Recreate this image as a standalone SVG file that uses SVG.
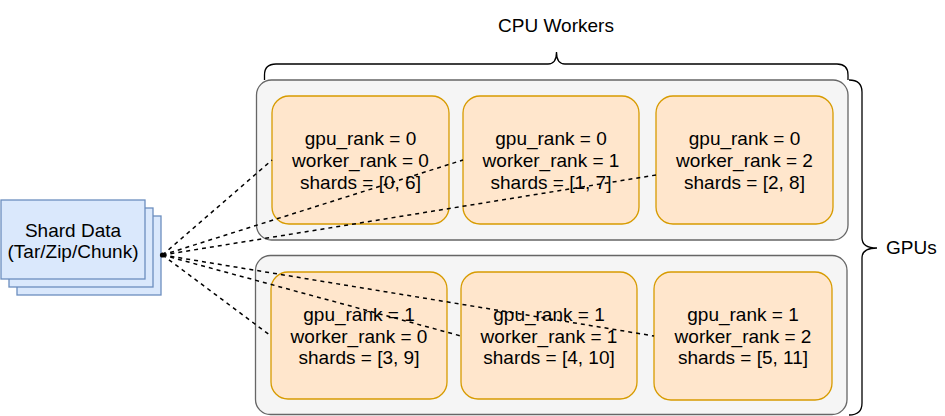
<svg xmlns="http://www.w3.org/2000/svg" width="945" height="416" viewBox="0 0 945 416">
<style>
  text { font-family: "Liberation Sans", Arial, Helvetica, sans-serif; font-size: 19px; fill: #000; text-anchor: middle; }
  .shard { fill: #dae8fc; stroke: #6c8ebf; stroke-width: 1.3; }
  .gpu { fill: #f5f5f5; stroke: #666666; stroke-width: 1.3; }
  .worker { fill: #ffe6cc; stroke: #d79b00; stroke-width: 1.3; }
  .brace { fill: none; stroke: #000; stroke-width: 1.3; }
  .link { fill: none; stroke: #000; stroke-width: 1.5; stroke-dasharray: 4 4; }
</style>
<rect width="945" height="416" fill="#ffffff"/>

<g id="cpu-workers-label">
  <path class="brace" d="M264.5,80 L264.5,75 Q264.5,64 276,64 L548,64 Q556.5,64 556.5,52 Q556.5,64 565,64 L837,64 Q848,64 848,75 L848,80"/>
  <text x="556" y="32">CPU Workers</text>
</g>

<g id="gpus-label">
  <path class="brace" d="M849,80 Q862,80 862,92 L862,238 Q862,248 877,248 Q862,248 862,258 L862,403 Q862,415 849,415"/>
  <text x="886" y="254" style="text-anchor:start">GPUs</text>
</g>

<g id="shard-data">
  <rect class="shard" x="17" y="216" width="144" height="79"/>
  <rect class="shard" x="9" y="208" width="144" height="79"/>
  <rect class="shard" x="1" y="200" width="144" height="79"/>
  <text x="73" y="236.5">Shard Data</text>
  <text x="73" y="257.5">(Tar/Zip/Chunk)</text>
</g>

<g id="gpu0">
  <rect class="gpu" x="256.5" y="80" width="591.5" height="160" rx="15" ry="15"/>
</g>
<g id="gpu1">
  <rect class="gpu" x="255.5" y="255.5" width="591.5" height="159" rx="15" ry="15"/>
</g>

<g id="w00">
  <rect class="worker" x="272" y="96" width="177" height="128" rx="17" ry="17"/>
  <text x="360.5" y="145">gpu_rank = 0</text>
  <text x="360.5" y="167">worker_rank = 0</text>
  <text x="360.5" y="188.5">shards = [0, 6]</text>
</g>
<g id="w01">
  <rect class="worker" x="463" y="96" width="176" height="128" rx="17" ry="17"/>
  <text x="551" y="145">gpu_rank = 0</text>
  <text x="551" y="167">worker_rank = 1</text>
  <text x="551" y="188.5">shards = [1, 7]</text>
</g>
<g id="w02">
  <rect class="worker" x="656" y="96" width="177" height="128" rx="17" ry="17"/>
  <text x="744.5" y="145">gpu_rank = 0</text>
  <text x="744.5" y="167">worker_rank = 2</text>
  <text x="744.5" y="188.5">shards = [2, 8]</text>
</g>
<g id="w10">
  <rect class="worker" x="271" y="272" width="176" height="127" rx="17" ry="17"/>
  <text x="359" y="321">gpu_rank = 1</text>
  <text x="359" y="342.5">worker_rank = 0</text>
  <text x="359" y="364">shards = [3, 9]</text>
</g>
<g id="w11">
  <rect class="worker" x="461" y="272" width="176" height="127" rx="17" ry="17"/>
  <text x="549" y="321">gpu_rank = 1</text>
  <text x="549" y="342.5">worker_rank = 1</text>
  <text x="549" y="364">shards = [4, 10]</text>
</g>
<g id="w12">
  <rect class="worker" x="654" y="272" width="178" height="128" rx="17" ry="17"/>
  <text x="743" y="321">gpu_rank = 1</text>
  <text x="743" y="342.5">worker_rank = 2</text>
  <text x="743" y="364">shards = [5, 11]</text>
</g>

<g id="connectors">
  <line class="link" x1="162.5" y1="255" x2="272" y2="160"/>
  <line class="link" x1="162.5" y1="255" x2="463" y2="160"/>
  <line class="link" x1="162.5" y1="255" x2="656" y2="175"/>
  <line class="link" x1="162.5" y1="255" x2="271" y2="336"/>
  <line class="link" x1="162.5" y1="255" x2="461" y2="336"/>
  <line class="link" x1="162.5" y1="255" x2="654" y2="336"/>
  <circle cx="162.5" cy="255" r="2.6" fill="#000"/>
</g>
</svg>
